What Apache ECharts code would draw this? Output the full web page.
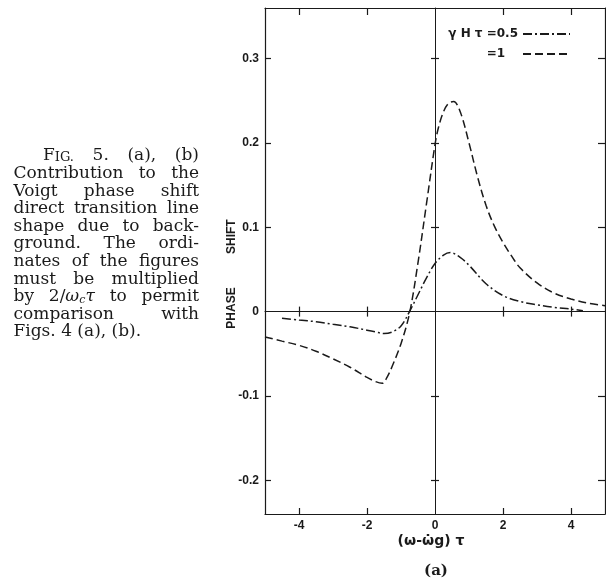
<!DOCTYPE html>
<html><head><meta charset="utf-8">
<script src="https://cdn.jsdelivr.net/npm/echarts@6/dist/echarts.min.js"></script>
<style>html,body{margin:0;padding:0;background:#fff}#c{width:606px;height:582px}</style>
</head><body><div id="c"></div>
<script>
// ---- data ----
const xTickLabels = [-4, -2, 0, 2, 4];
const xTickMarks = [-4, -2, 2, 4];
const yTickLabels = [-0.2, -0.1, 0, 0.1, 0.2, 0.3];
const yTickMarks = [-0.2, -0.1, 0.1, 0.2, 0.3];

const seriesNames = ['γHτ = 0.5', 'γHτ = 1'];
const legendTexts = ['γ H τ =0.5', '=1\u2008\u2007'];

// gamma H tau = 0.5 (dash-dot)
const xHalf = [-4.5, -4, -3.5, -3, -2.5, -2, -1.75, -1.5, -1.25, -1, -0.75, -0.5, -0.25, 0, 0.25, 0.45, 0.75, 1, 1.5, 2, 2.5, 3, 3.5, 4, 4.35];
const yHalf = [-0.008, -0.010, -0.012, -0.015, -0.018, -0.022, -0.024, -0.026, -0.024, -0.017, 0.000, 0.020, 0.040, 0.057, 0.067, 0.070, 0.064, 0.055, 0.033, 0.019, 0.012, 0.008, 0.005, 0.003, 0.001];

// gamma H tau = 1 (dashed)
const xOne = [-5, -4.5, -4, -3.5, -3, -2.5, -2, -1.75, -1.55, -1.4, -1.25, -1, -0.75, -0.5, -0.25, 0, 0.1, 0.25, 0.4, 0.55, 0.75, 1, 1.25, 1.5, 1.75, 2, 2.25, 2.5, 3, 3.5, 4, 4.5, 5];
const yOne = [-0.030, -0.035, -0.040, -0.047, -0.056, -0.066, -0.078, -0.083, -0.085, -0.077, -0.064, -0.038, -0.002, 0.058, 0.128, 0.198, 0.218, 0.237, 0.247, 0.249, 0.236, 0.200, 0.160, 0.126, 0.101, 0.082, 0.066, 0.052, 0.034, 0.022, 0.015, 0.010, 0.007];

const captionLines = [
  '{sc0|F}{sc|IG.} 5. (a), (b)',
  'Contribution to the',
  'Voigt phase shift',
  'direct transition line',
  'shape due to back-',
  'ground. The ordi-',
  'nates of the figures',
  'must be multiplied',
  'by 2/{i|ω}{sub|c}{i|τ} to permit',
  'comparison with',
  'Figs. 4 (a), (b).'
];

// ---- helpers ----
const zip = (xs, ys) => xs.map((x, i) => [x, ys[i]]);
const INK = '#1a1a1a';
const SANS = '"Liberation Sans", "DejaVu Sans", sans-serif';
const SERIF = '"DejaVu Serif", serif';
const CAP = 17;

const capFonts = {
  n: CAP + 'px ' + SERIF,
  sc0: CAP + 'px ' + SERIF,
  sc: Math.round(CAP * 0.74) + 'px ' + SERIF,
  i: 'italic ' + CAP + 'px ' + SERIF,
  sub: 'italic ' + Math.round(CAP * 0.66) + 'px ' + SERIF
};
const base = { fontFamily: 'DejaVu Serif', fill: INK, verticalAlign: 'bottom', lineHeight: 18 };
const capRich = {
  n: Object.assign({ fontSize: CAP }, base),
  sc0: Object.assign({ fontSize: CAP }, base),
  sc: Object.assign({ fontSize: Math.round(CAP * 0.74) }, base),
  i: Object.assign({ fontSize: CAP, fontStyle: 'italic' }, base),
  sub: Object.assign({ fontSize: Math.round(CAP * 0.66), fontStyle: 'italic' }, base, { lineHeight: 16 })
};
const mctx = document.createElement('canvas').getContext('2d');
function tokens(word) {
  const re = /\{(\w+)\|([^}]*)\}|([^{]+)/g;
  const out = []; let m;
  while ((m = re.exec(word))) {
    if (m[3] !== undefined) out.push({ k: 'n', t: m[3] });
    else out.push({ k: m[1], t: m[2] });
  }
  return out;
}
function measure(word) {
  return tokens(word).reduce((s, tk) => { mctx.font = capFonts[tk.k]; return s + mctx.measureText(tk.t).width; }, 0);
}
function richText(word) {
  return tokens(word).map(tk => '{' + tk.k + '|' + tk.t + '}').join('');
}

const capLeft = 13.5, capRight = 199, capTop = 157.5, capStep = 17.6;
const captionGraphics = [];
captionLines.forEach((line, li) => {
  const words = line.split(' ');
  const widths = words.map(measure);
  const total = widths.reduce((a, b) => a + b, 0);
  const left = li === 0 ? 43 : capLeft;
  const last = li === captionLines.length - 1;
  mctx.font = capFonts.n;
  const gap = last ? mctx.measureText(' ').width : (capRight - left - total) / (words.length - 1);
  let x = left;
  words.forEach((w, wi) => {
    captionGraphics.push({
      type: 'text', x: x, y: capTop + li * capStep + 7,
      style: { text: richText(w), rich: capRich, verticalAlign: 'bottom', align: 'left', fill: INK }
    });
    x += widths[wi] + gap;
  });
});

// ---- chart ----
const chart = echarts.init(document.getElementById('c'), null, { renderer: 'canvas' });
const axisLine = { color: INK, width: 1.2 };
const tickStyle = { color: INK, width: 1.2 };
const labelStyle = { color: INK, fontFamily: SANS, fontWeight: 'bold', fontSize: 12 };

const option = {
  backgroundColor: '#fff',
  animation: false,
  grid: { left: 265, right: 1, top: 8, bottom: 68, containLabel: false },
  legend: {
    data: seriesNames,
    orient: 'vertical',
    right: 30, top: 21,
    align: 'right',
    itemWidth: 47, itemHeight: 14, itemGap: 4,
    selectedMode: false,
    itemStyle: { opacity: 0 },
    formatter: name => legendTexts[seriesNames.indexOf(name)],
    textStyle: { color: INK, fontFamily: '"DejaVu Sans", sans-serif', fontWeight: 'bold', fontSize: 12, lineHeight: 16 }
  },
  xAxis: [
    {
      type: 'value', min: -5, max: 5, position: 'bottom',
      axisLine: { onZero: false, lineStyle: axisLine },
      axisTick: { inside: true, length: 6, customValues: xTickMarks, lineStyle: tickStyle },
      axisLabel: Object.assign({ customValues: xTickLabels, margin: 6 }, labelStyle),
      splitLine: { show: false },
      name: '(ω-ω̇g) τ', nameLocation: 'middle', nameGap: 20, nameMoveOverlap: false,
      nameTextStyle: { color: INK, fontFamily: '"DejaVu Sans", sans-serif', fontWeight: 'bold', fontSize: 14, padding: [0, 8, 0, 0] }
    },
    {
      type: 'value', min: -5, max: 5, position: 'top',
      axisLine: { onZero: false, lineStyle: axisLine },
      axisTick: { inside: true, length: 7, customValues: xTickMarks, lineStyle: tickStyle },
      axisLabel: { show: false }, splitLine: { show: false }
    },
    {
      type: 'value', min: -5, max: 5, position: 'bottom',
      axisLine: { onZero: true, onZeroAxisIndex: 0, lineStyle: { color: INK, width: 1 } },
      axisTick: { inside: true, length: 5, customValues: xTickMarks, lineStyle: tickStyle },
      axisLabel: { show: false }, splitLine: { show: false }
    },
    {
      type: 'value', min: -5, max: 5, position: 'top',
      axisLine: { show: false, onZero: true, onZeroAxisIndex: 0 },
      axisTick: { inside: true, length: 5, customValues: xTickMarks, lineStyle: tickStyle },
      axisLabel: { show: false }, splitLine: { show: false }
    }
  ],
  yAxis: [
    {
      type: 'value', min: -0.24, max: 0.36, position: 'left',
      axisLine: { show: true, onZero: false, lineStyle: axisLine },
      axisTick: { show: true, inside: true, length: 6, customValues: yTickMarks, lineStyle: tickStyle },
      axisLabel: Object.assign({ customValues: yTickLabels, margin: 6 }, labelStyle),
      splitLine: { show: false },
      name: 'PHASE' + ' '.repeat(10) + 'SHIFT', nameLocation: 'middle', nameGap: 27, nameMoveOverlap: false,
      nameTextStyle: { color: INK, fontFamily: SANS, fontWeight: 'bold', fontSize: 12, padding: [0, 26, 0, 0] }
    },
    {
      type: 'value', min: -0.24, max: 0.36, position: 'right',
      axisLine: { show: true, onZero: false, lineStyle: axisLine },
      axisTick: { show: true, inside: true, length: 7, customValues: yTickMarks, lineStyle: tickStyle },
      axisLabel: { show: false }, splitLine: { show: false }
    },
    {
      type: 'value', min: -0.24, max: 0.36, position: 'left',
      axisLine: { show: true, onZero: true, onZeroAxisIndex: 0, lineStyle: { color: INK, width: 1 } },
      axisTick: { show: true, inside: true, length: 4, customValues: yTickMarks, lineStyle: tickStyle },
      axisLabel: { show: false }, splitLine: { show: false }
    },
    {
      type: 'value', min: -0.24, max: 0.36, position: 'right',
      axisLine: { show: false, onZero: true, onZeroAxisIndex: 0 },
      axisTick: { show: true, inside: true, length: 4, customValues: yTickMarks, lineStyle: tickStyle },
      axisLabel: { show: false }, splitLine: { show: false }
    }
  ],
  series: [
    {
      name: seriesNames[0], type: 'line', xAxisIndex: 0, yAxisIndex: 0,
      data: zip(xHalf, yHalf), symbol: 'none', showSymbol: false, smooth: 0.35,
      lineStyle: { color: INK, width: 1.5, type: [9, 3, 2, 3] }, itemStyle: { color: INK }
    },
    {
      name: seriesNames[1], type: 'line', xAxisIndex: 0, yAxisIndex: 0,
      data: zip(xOne, yOne), symbol: 'none', showSymbol: false, smooth: 0.35,
      lineStyle: { color: INK, width: 1.5, type: [8, 4] }, itemStyle: { color: INK }
    }
  ],
  graphic: captionGraphics.concat([
    { type: 'text', x: 436, y: 571,
      style: { text: '(a)', fontFamily: 'DejaVu Serif', fontWeight: 'bold', fontSize: 15, fill: INK, align: 'center', verticalAlign: 'middle' } }
  ])
};
chart.setOption(option);
</script>
</body></html>
